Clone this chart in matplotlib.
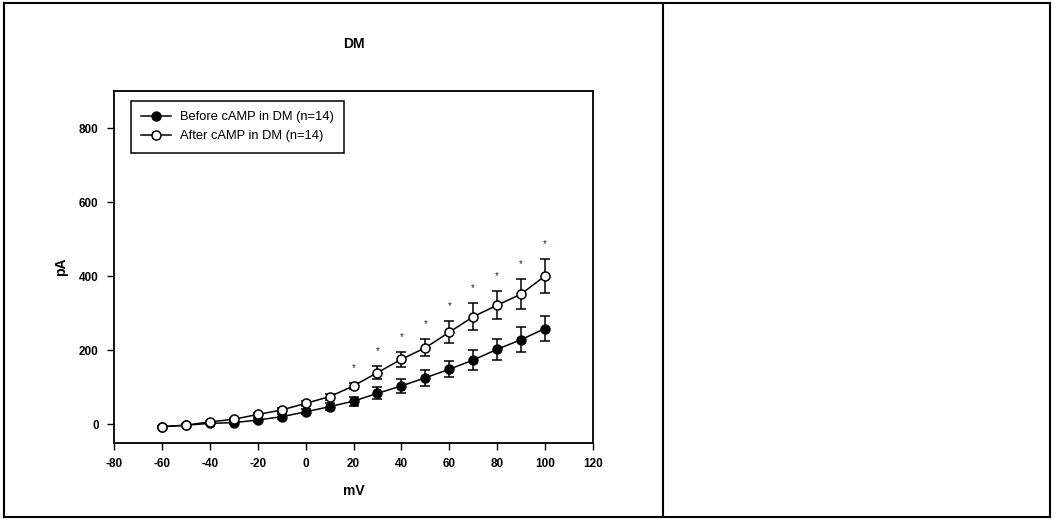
import matplotlib
matplotlib.use('Agg')
import matplotlib.pyplot as plt
from matplotlib.lines import Line2D
import numpy as np

# membrane voltage steps (mV)
mv = [-60, -50, -40, -30, -20, -10, 0, 10, 20, 30, 40, 50, 60, 70, 80, 90, 100]

# current (pA)
before = [-6, -2, 3, 5, 12, 21, 34, 48, 63, 84, 104, 126, 149, 174, 203, 229, 259]
before_err = [2, 2, 3, 4, 5, 6, 7, 10, 12, 16, 19, 21, 22, 28, 29, 33, 33]
after = [-6, -2, 7, 14, 27, 39, 57, 75, 104, 140, 176, 207, 249, 291, 322, 352, 401]
after_err = [2, 2, 3, 4, 5, 6, 7, 8, 8, 17, 20, 23, 30, 37, 38, 40, 46]

# voltages where the difference is significant
sig_mv = [20, 30, 40, 50, 60, 70, 80, 90, 100]

plt.rcParams['font.family'] = ['Liberation Sans', 'DejaVu Sans']
plt.rcParams['axes.unicode_minus'] = False

fig = plt.figure(figsize=(10.53, 5.2), dpi=100)
ax = fig.add_axes([114 / 1053, 1 - 443 / 520, (593 - 114) / 1053, (443 - 91) / 520])

ax.errorbar(mv, before, yerr=before_err, fmt='-o', color='black', mfc='black',
            mec='black', ms=6.5, lw=1.1, elinewidth=1.1, capsize=3.5, capthick=1.1,
            zorder=2)
ax.errorbar(mv, after, yerr=after_err, fmt='-o', color='black', mfc='white',
            mec='black', ms=6.5, mew=1.1, lw=1.1, elinewidth=1.1, capsize=3.5, capthick=1.1,
            zorder=3)

# significance marks above the "after" points
for x in sig_mv:
    i = mv.index(x)
    ax.text(x, after[i] + after_err[i] + 40, '*', ha='center', va='center',
            fontsize=7, color='#222244')

ax.set_xlim(-80, 120)
ax.set_ylim(-50, 900)
ax.set_xticks(np.arange(-80, 121, 20))
ax.set_yticks([0, 200, 400, 600, 800])
ax.tick_params(direction='out', length=5, width=1, labelsize=8.5, pad=6,
               top=False, right=False)
for lab in ax.get_xticklabels() + ax.get_yticklabels():
    lab.set_fontweight('bold')
for s in ax.spines.values():
    s.set_linewidth(1.3)

ax.set_xlabel('mV', fontsize=10, fontweight='bold', labelpad=10)
ax.set_ylabel('pA', fontsize=10, fontweight='bold', labelpad=8)
ax.set_title('DM', fontsize=10, fontweight='bold', pad=31)

handles = [Line2D([], [], color='black', marker='o', mfc='black', mec='black', ms=6.5, lw=1.1),
           Line2D([], [], color='black', marker='o', mfc='white', mec='black', ms=6.5, mew=1.1, lw=1.1)]
labels = ['Before cAMP in DM (n=14)', 'After cAMP in DM (n=14)']
leg = ax.legend(handles, labels, loc='upper left', bbox_to_anchor=(0.022, 0.99), fontsize=9.3,
                frameon=True, fancybox=False, edgecolor='black', framealpha=1,
                handlelength=2.3, borderpad=0.8, handletextpad=0.7, labelspacing=0.55)
leg.get_frame().set_linewidth(1.1)

# table-style border around the figure
for (x0, y0, x1, y1) in [(4, 3, 1050, 3), (4, 517, 1050, 517), (4, 3, 4, 517),
                         (1050, 3, 1050, 517), (663, 3, 663, 517)]:
    fig.add_artist(Line2D([x0 / 1053, x1 / 1053], [1 - y0 / 520, 1 - y1 / 520],
                          color='black', lw=1.5, transform=fig.transFigure))

fig.savefig('out.png', dpi=100)
